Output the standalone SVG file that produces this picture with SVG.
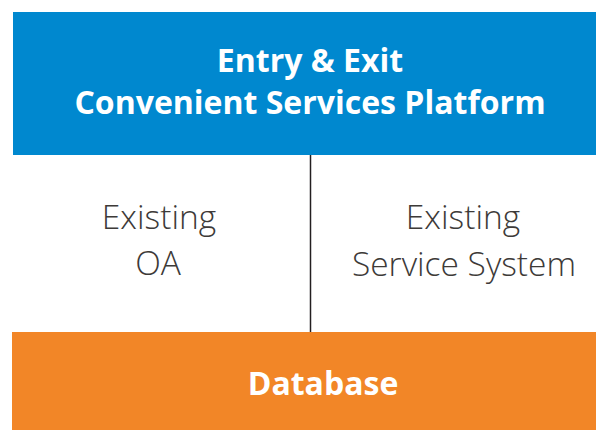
<svg xmlns="http://www.w3.org/2000/svg" width="596" height="430" viewBox="0 0 596 430">
<style>
.title{font-family:"Open Sans","Liberation Sans",sans-serif;font-weight:700;fill:#ffffff;text-anchor:middle}
.label{font-family:"Open Sans","Liberation Sans",sans-serif;font-weight:300;fill:#3d3a38;text-anchor:middle;font-size:33.5px}
</style>
<rect width="596" height="430" fill="#ffffff"/>
<g id="platform">
<rect x="13" y="12" width="583" height="143" fill="#0088cf"/>
<text class="title" font-size="32" x="310" y="72">Entry &amp; Exit</text>
<text class="title" font-size="32" x="310" y="114">Convenient Services Platform</text>
</g>
<g id="connectors">
<line x1="310.5" y1="155" x2="310.5" y2="332" stroke="#231f20" stroke-width="1.5"/>
</g>
<g id="existing-oa">
<text class="label" x="159" y="229">Existing</text>
<text class="label" x="158" y="275">OA</text>
</g>
<g id="existing-service-system">
<text class="label" x="463" y="229">Existing</text>
<text class="label" x="464" y="276">Service System</text>
</g>
<g id="database">
<rect x="12" y="332" width="584" height="98" fill="#f28627"/>
<text class="title" font-size="32" x="323" y="395">Database</text>
</g>
</svg>
